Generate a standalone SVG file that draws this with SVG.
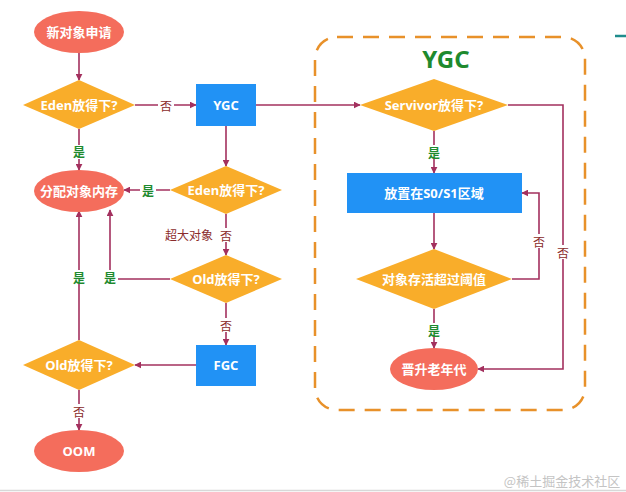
<svg xmlns="http://www.w3.org/2000/svg" width="626" height="492" viewBox="0 0 626 492">
<style>
.ell{fill:#F46D5C}
.dia{fill:#F9AD2A}
.box{fill:#2192F5}
.nt{font-family:"Noto Sans","Noto Sans CJK SC",sans-serif;font-weight:bold;font-size:13px;fill:#fff;text-anchor:middle;dominant-baseline:central}
.ln{fill:none;stroke:#A3305E;stroke-width:1.6}
.yes{font-family:"Noto Sans CJK SC",sans-serif;font-weight:bold;font-size:12px;fill:#1E8A2E;text-anchor:middle;dominant-baseline:central}
.no{font-family:"Noto Sans CJK SC",sans-serif;font-size:12px;fill:#8B2C2C;text-anchor:middle;dominant-baseline:central}
.bg{fill:#fff}
</style>
<defs>
<marker id="ah" viewBox="0 0 10 10" refX="9" refY="5" markerWidth="7" markerHeight="7" orient="auto" markerUnits="userSpaceOnUse">
<path d="M0,0 L10,5 L0,10 z" fill="#A3305E"/>
</marker>
</defs>
<rect width="626" height="492" fill="#fff"/>
<g id="ygc-region">
<rect x="315" y="37" width="270" height="373" rx="22" fill="none" stroke="#E8912A" stroke-width="2.5" stroke-dasharray="16,10"/>
<text x="446" y="58" font-family="Noto Sans, sans-serif" font-weight="bold" font-size="24" fill="#1E8A2E" text-anchor="middle" dominant-baseline="central">YGC</text>
</g>
<line x1="615" y1="36" x2="626" y2="36" stroke="#1F8C8C" stroke-width="2.5"/>
<g id="connectors">
<line class="ln" x1="79" y1="53" x2="79" y2="80" marker-end="url(#ah)"/>
<line class="ln" x1="135" y1="105" x2="196" y2="105" marker-end="url(#ah)"/>
<line class="ln" x1="79" y1="129" x2="79" y2="170" marker-end="url(#ah)"/>
<line class="ln" x1="226" y1="126" x2="226" y2="166" marker-end="url(#ah)"/>
<line class="ln" x1="256" y1="105" x2="360" y2="105" marker-end="url(#ah)"/>
<line class="ln" x1="170" y1="190" x2="124" y2="190" marker-end="url(#ah)"/>
<line class="ln" x1="226" y1="214" x2="226" y2="255" marker-end="url(#ah)"/>
<polyline class="ln" points="170,279 110,279 110,210" marker-end="url(#ah)"/>
<line class="ln" x1="226" y1="303" x2="226" y2="345" marker-end="url(#ah)"/>
<line class="ln" x1="196" y1="365" x2="135" y2="365" marker-end="url(#ah)"/>
<line class="ln" x1="79" y1="340" x2="79" y2="211" marker-end="url(#ah)"/>
<line class="ln" x1="79" y1="390" x2="79" y2="430" marker-end="url(#ah)"/>
<line class="ln" x1="434" y1="131" x2="434" y2="173" marker-end="url(#ah)"/>
<polyline class="ln" points="508,105 563,105 563,369 478,369" marker-end="url(#ah)"/>
<line class="ln" x1="434" y1="213" x2="434" y2="249" marker-end="url(#ah)"/>
<polyline class="ln" points="512,279 539,279 539,193 522,193" marker-end="url(#ah)"/>
<line class="ln" x1="434" y1="309" x2="434" y2="348" marker-end="url(#ah)"/>
<rect class="bg" x="158" y="98" width="16" height="14"/><text class="no" x="166" y="105">否</text>
<rect class="bg" x="71" y="145" width="16" height="14"/><text class="yes" x="79" y="151">是</text>
<rect class="bg" x="140" y="183" width="16" height="14"/><text class="yes" x="148" y="190">是</text>
<text class="no" x="189" y="234">超大对象</text>
<rect class="bg" x="218" y="228" width="16" height="14"/><text class="no" x="226" y="235">否</text>
<rect class="bg" x="102" y="270" width="16" height="14"/><text class="yes" x="110" y="277">是</text>
<rect class="bg" x="71" y="270" width="16" height="14"/><text class="yes" x="79" y="277">是</text>
<rect class="bg" x="218" y="318" width="16" height="14"/><text class="no" x="226" y="325">否</text>
<rect class="bg" x="71" y="404" width="16" height="14"/><text class="no" x="79" y="411">否</text>
<rect class="bg" x="426" y="145" width="16" height="14"/><text class="yes" x="434" y="152">是</text>
<rect class="bg" x="531" y="234" width="16" height="14"/><text class="no" x="539" y="241">否</text>
<rect class="bg" x="555" y="245" width="16" height="14"/><text class="no" x="563" y="252">否</text>
<rect class="bg" x="426" y="323" width="16" height="14"/><text class="yes" x="434" y="330">是</text>
</g>
<g id="new-request"><ellipse class="ell" cx="79" cy="32" rx="45" ry="21"/><text class="nt" x="79" y="32">新对象申请</text></g>
<g id="eden1"><polygon class="dia" points="79,80 135,105 79,129 23,105"/><text class="nt" x="79" y="105">Eden放得下?</text></g>
<g id="ygc"><rect class="box" x="196" y="84" width="60" height="42"/><text class="nt" x="226" y="105">YGC</text></g>
<g id="alloc"><ellipse class="ell" cx="79" cy="191" rx="45" ry="21"/><text class="nt" x="79" y="191">分配对象内存</text></g>
<g id="eden2"><polygon class="dia" points="226,166 282,190 226,214 170,190"/><text class="nt" x="226" y="190">Eden放得下?</text></g>
<g id="old1"><polygon class="dia" points="226,255 282,279 226,303 170,279"/><text class="nt" x="226" y="279">Old放得下?</text></g>
<g id="fgc"><rect class="box" x="196" y="345" width="60" height="41"/><text class="nt" x="226" y="365">FGC</text></g>
<g id="old2"><polygon class="dia" points="79,340 135,365 79,390 23,365"/><text class="nt" x="79" y="365">Old放得下?</text></g>
<g id="oom"><ellipse class="ell" cx="79" cy="451" rx="45" ry="21"/><text class="nt" x="79" y="451">OOM</text></g>
<g id="survivor"><polygon class="dia" points="434,79 508,105 434,131 360,105"/><text class="nt" x="434" y="105">Servivor放得下?</text></g>
<g id="s0s1"><rect class="box" x="347" y="173" width="175" height="40"/><text class="nt" x="434" y="193">放置在S0/S1区域</text></g>
<g id="threshold"><polygon class="dia" points="434,249 512,279 434,309 356,279"/><text class="nt" x="434" y="279">对象存活超过阈值</text></g>
<g id="promote"><ellipse class="ell" cx="434" cy="369" rx="44" ry="21"/><text class="nt" x="434" y="369">晋升老年代</text></g>
<text x="562" y="480" font-family="Noto Sans CJK SC, sans-serif" font-size="13" fill="#C4C4C4" text-anchor="middle" dominant-baseline="central">@稀土掘金技术社区</text>
<line x1="0" y1="490.5" x2="626" y2="490.5" stroke="#D8D8D8" stroke-width="1.5"/>
</svg>
